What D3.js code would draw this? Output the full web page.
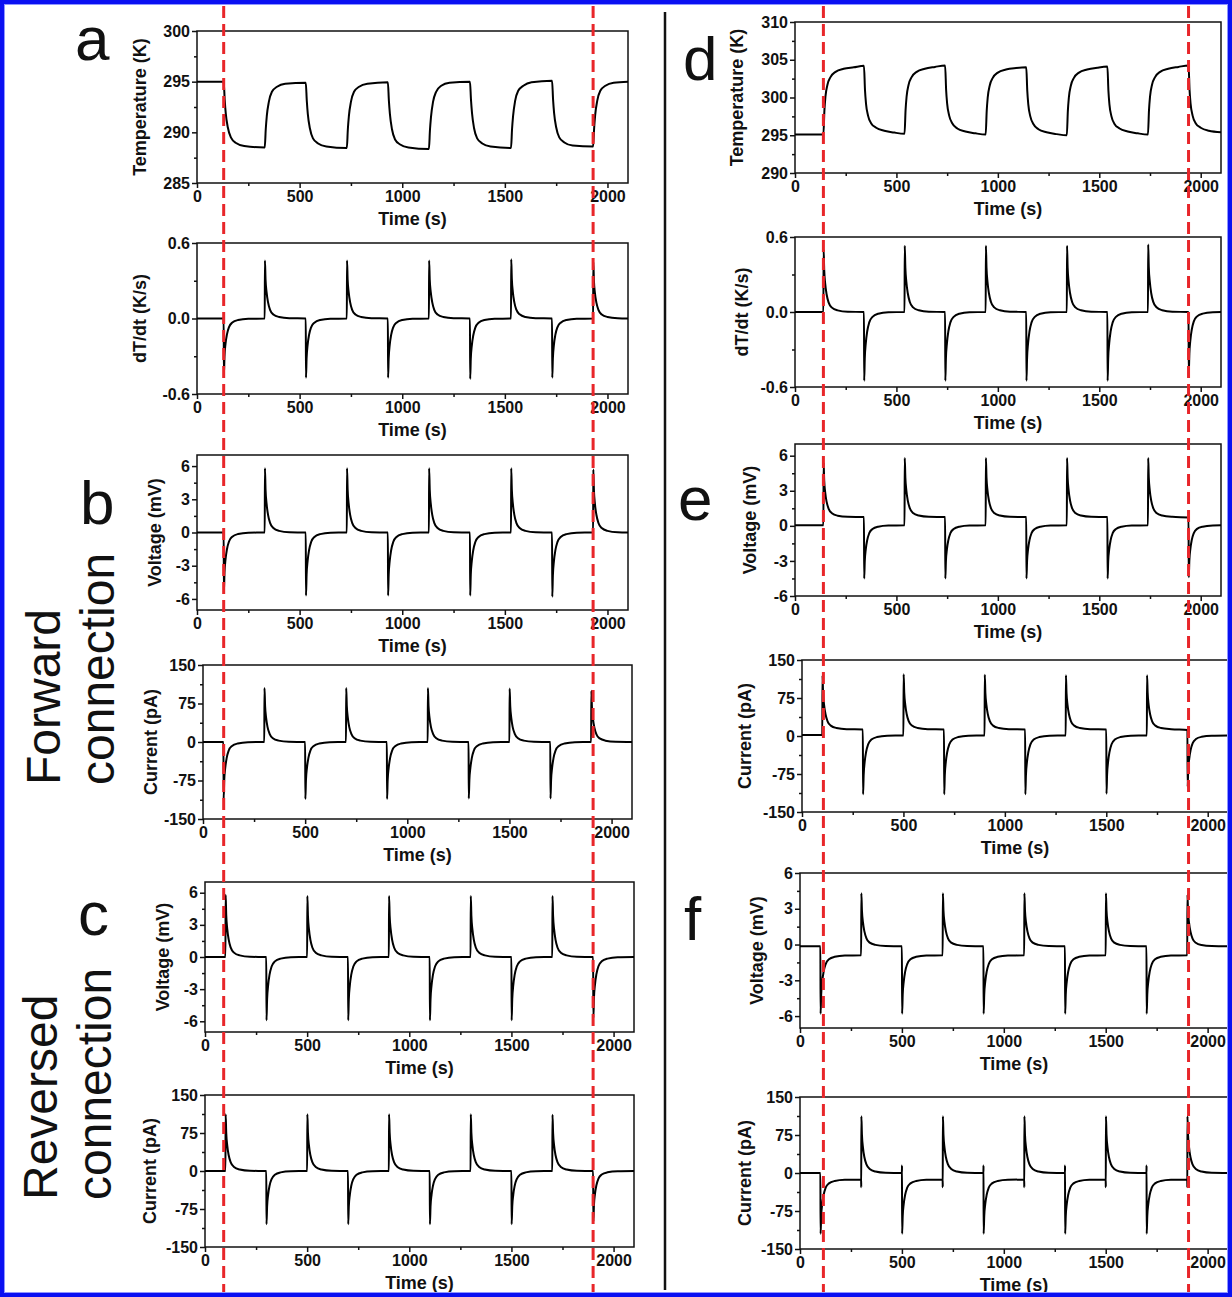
<!DOCTYPE html>
<html lang="en">
<head>
  <meta charset="UTF-8" />
  <title>Temperature, dT/dt, voltage and current traces</title>
  <script src="https://d3js.org/d3.v7.min.js"></script>
  <style>
    body { margin: 0; background: #fff; }
    svg { display: block; }
    .tick text { font: bold 16px 'Liberation Sans', Arial, sans-serif; fill: #111; }
    .axis path, .axis line { stroke: #111; stroke-width: 1.5px; }
    text.ytitle, text.xtitle { font: bold 18px 'Liberation Sans', Arial, sans-serif; fill: #111; }
    text.letter { font: 62px 'Liberation Sans', Arial, sans-serif; fill: #111; }
    text.side { font: 48px 'Liberation Sans', Arial, sans-serif; fill: #111; }
    path.trace { fill: none; stroke: #000; stroke-width: 2px; }
    rect.frame { fill: none; stroke: #111; stroke-width: 1.5px; }
  </style>
</head>
<body>
  <svg id="fig" width="1232" height="1297"></svg>

  <script>
    // shared x axis
    const xDomain = [0, 2100];
    const xTicks = [0, 500, 1000, 1500, 2000];
    const xMinor = [250, 750, 1250, 1750];

    // red dashed marker times (in the top panel time frame of each column)
    const markersLeft = [130, 1930];
    const markersRight = [140, 1940];

    // (a) temperature, K
    const tempA = [
      [0,295],[130,295],[135,293.2],[140,291.9],[150,290.5],[165,289.5],[190,288.95],[230,288.65],[330,288.5],
      [335,290.3],[340,291.6],[350,293.0],[365,294.0],[390,294.5],[430,294.8],[530,294.9],
      [535,293.1],[540,291.8],[550,290.4],[565,289.4],[590,288.9],[630,288.6],[730,288.45],
      [735,290.3],[740,291.6],[750,293.0],[765,294.0],[790,294.5],[830,294.8],[930,294.95],
      [935,293.1],[940,291.8],[950,290.3],[965,289.3],[990,288.8],[1030,288.5],[1130,288.35],
      [1135,290.2],[1140,291.5],[1150,293.0],[1165,294.0],[1190,294.6],[1230,294.9],[1330,295.0],
      [1335,293.2],[1340,291.9],[1350,290.4],[1365,289.4],[1390,288.9],[1430,288.6],[1530,288.45],
      [1535,290.3],[1540,291.6],[1550,293.1],[1565,294.1],[1590,294.6],[1630,294.95],[1730,295.1],
      [1735,293.2],[1740,291.9],[1750,290.5],[1765,289.5],[1790,289.0],[1830,288.7],[1930,288.6],
      [1935,290.4],[1940,291.7],[1950,293.1],[1965,294.1],[1990,294.6],[2030,294.9],[2100,295.0]
    ];

    // (a) dT/dt, K/s
    const dTdtA = [
      [0,0],[130,0],[131,-0.45],[134,-0.30],[139,-0.20],[146,-0.126],[156,-0.068],[172,-0.032],[200,-0.012],[250,-0.002],
      [330,0],[331,0.46],[334,0.31],[339,0.21],[346,0.13],[356,0.069],[372,0.032],[400,0.012],[450,0.002],
      [530,0],[531,-0.47],[534,-0.315],[539,-0.21],[546,-0.13],[556,-0.07],[572,-0.033],[600,-0.012],[650,-0.002],
      [730,0],[731,0.46],[734,0.31],[739,0.21],[746,0.13],[756,0.069],[772,0.032],[800,0.012],[850,0.002],
      [930,0],[931,-0.47],[934,-0.315],[939,-0.21],[946,-0.13],[956,-0.07],[972,-0.033],[1000,-0.012],[1050,-0.002],
      [1130,0],[1131,0.46],[1134,0.31],[1139,0.21],[1146,0.13],[1156,0.069],[1172,0.032],[1200,0.012],[1250,0.002],
      [1330,0],[1331,-0.48],[1334,-0.32],[1339,-0.215],[1346,-0.135],[1356,-0.072],[1372,-0.034],[1400,-0.012],[1450,-0.002],
      [1530,0],[1531,0.47],[1534,0.315],[1539,0.21],[1546,0.13],[1556,0.07],[1572,0.033],[1600,0.012],[1650,0.002],
      [1730,0],[1731,-0.47],[1734,-0.315],[1739,-0.21],[1746,-0.13],[1756,-0.07],[1772,-0.033],[1800,-0.012],[1850,-0.002],
      [1930,0],[1931,0.45],[1934,0.30],[1939,0.20],[1946,0.126],[1956,0.068],[1972,0.032],[2000,0.012],[2050,0.002],[2100,0]
    ];

    // (b) forward connection voltage, mV
    const voltB = [
      [0,0],[130,0],[131,-5.4],[134,-3.62],[139,-2.43],[146,-1.51],[156,-0.81],[172,-0.38],[200,-0.14],[250,-0.02],
      [330,0],[331,5.8],[334,3.89],[339,2.61],[346,1.62],[356,0.87],[372,0.41],[400,0.15],[450,0.02],
      [530,0],[531,-5.7],[534,-3.82],[539,-2.57],[546,-1.6],[556,-0.86],[572,-0.4],[600,-0.15],[650,-0.02],
      [730,0],[731,5.8],[734,3.89],[739,2.61],[746,1.62],[756,0.87],[772,0.41],[800,0.15],[850,0.02],
      [930,0],[931,-5.7],[934,-3.82],[939,-2.57],[946,-1.6],[956,-0.86],[972,-0.4],[1000,-0.15],[1050,-0.02],
      [1130,0],[1131,5.8],[1134,3.89],[1139,2.61],[1146,1.62],[1156,0.87],[1172,0.41],[1200,0.15],[1250,0.02],
      [1330,0],[1331,-5.7],[1334,-3.82],[1339,-2.57],[1346,-1.6],[1356,-0.86],[1372,-0.4],[1400,-0.15],[1450,-0.02],
      [1530,0],[1531,5.8],[1534,3.89],[1539,2.61],[1546,1.62],[1556,0.87],[1572,0.41],[1600,0.15],[1650,0.02],
      [1730,0],[1731,-5.8],[1734,-3.89],[1739,-2.61],[1746,-1.62],[1756,-0.87],[1772,-0.41],[1800,-0.15],[1850,-0.02],
      [1930,0],[1931,5.7],[1934,3.82],[1939,2.57],[1946,1.6],[1956,0.86],[1972,0.4],[2000,0.15],[2050,0.02],[2100,0]
    ];

    // (b) forward connection current, pA
    const currB = [
      [0,0],[100,0],[101,-110],[104,-74],[109,-50],[116,-31],[126,-16.5],[142,-7.7],[170,-2.9],[220,-0.4],
      [300,0],[301,105],[304,70],[309,47],[316,29],[326,16],[342,7.4],[370,2.7],[420,0.4],
      [500,0],[501,-111],[504,-74],[509,-50],[516,-31],[526,-16.5],[542,-7.7],[570,-2.9],[620,-0.4],
      [700,0],[701,105],[704,70],[709,47],[716,29],[726,16],[742,7.4],[770,2.7],[820,0.4],
      [900,0],[901,-111],[904,-74],[909,-50],[916,-31],[926,-16.5],[942,-7.7],[970,-2.9],[1020,-0.4],
      [1100,0],[1101,105],[1104,70],[1109,47],[1116,29],[1126,16],[1142,7.4],[1170,2.7],[1220,0.4],
      [1300,0],[1301,-110],[1304,-74],[1309,-50],[1316,-31],[1326,-16.5],[1342,-7.7],[1370,-2.9],[1420,-0.4],
      [1500,0],[1501,104],[1504,70],[1509,47],[1516,29],[1526,16],[1542,7.4],[1570,2.7],[1620,0.4],
      [1700,0],[1701,-110],[1704,-74],[1709,-50],[1716,-31],[1726,-16.5],[1742,-7.7],[1770,-2.9],[1820,-0.4],
      [1900,0],[1901,100],[1904,67],[1909,45],[1916,28],[1926,15],[1942,7],[1970,2.6],[2020,0.4],[2100,0]
    ];

    // (c) reversed connection voltage, mV
    const voltC = [
      [0,0],[100,0],[101,5.8],[104,3.89],[109,2.61],[116,1.62],[126,0.87],[142,0.41],[170,0.15],[220,0.02],
      [300,0],[301,-5.9],[304,-3.95],[309,-2.66],[316,-1.65],[326,-0.89],[342,-0.41],[370,-0.15],[420,-0.02],
      [500,0],[501,5.7],[504,3.82],[509,2.57],[516,1.6],[526,0.86],[542,0.4],[570,0.15],[620,0.02],
      [700,0],[701,-5.9],[704,-3.95],[709,-2.66],[716,-1.65],[726,-0.89],[742,-0.41],[770,-0.15],[820,-0.02],
      [900,0],[901,5.7],[904,3.82],[909,2.57],[916,1.6],[926,0.86],[942,0.4],[970,0.15],[1020,0.02],
      [1100,0],[1101,-5.9],[1104,-3.95],[1109,-2.66],[1116,-1.65],[1126,-0.89],[1142,-0.41],[1170,-0.15],[1220,-0.02],
      [1300,0],[1301,5.7],[1304,3.82],[1309,2.57],[1316,1.6],[1326,0.86],[1342,0.4],[1370,0.15],[1420,0.02],
      [1500,0],[1501,-5.9],[1504,-3.95],[1509,-2.66],[1516,-1.65],[1526,-0.89],[1542,-0.41],[1570,-0.15],[1620,-0.02],
      [1700,0],[1701,5.7],[1704,3.82],[1709,2.57],[1716,1.6],[1726,0.86],[1742,0.4],[1770,0.15],[1820,0.02],
      [1900,0],[1901,-5.7],[1904,-3.82],[1909,-2.57],[1916,-1.6],[1926,-0.86],[1942,-0.4],[1970,-0.15],[2020,-0.02],[2100,0]
    ];

    // (c) reversed connection current, pA
    const currC = [
      [0,0],[100,0],[101,112],[104,75],[109,50],[116,31],[126,17],[142,7.8],[170,2.9],[220,0.4],
      [300,0],[301,-105],[304,-70],[309,-47],[316,-29],[326,-16],[342,-7.4],[370,-2.7],[420,-0.4],
      [500,0],[501,112],[504,75],[509,50],[516,31],[526,17],[542,7.8],[570,2.9],[620,0.4],
      [700,0],[701,-105],[704,-70],[709,-47],[716,-29],[726,-16],[742,-7.4],[770,-2.7],[820,-0.4],
      [900,0],[901,112],[904,75],[909,50],[916,31],[926,17],[942,7.8],[970,2.9],[1020,0.4],
      [1100,0],[1101,-105],[1104,-70],[1109,-47],[1116,-29],[1126,-16],[1142,-7.4],[1170,-2.7],[1220,-0.4],
      [1300,0],[1301,112],[1304,75],[1309,50],[1316,31],[1326,17],[1342,7.8],[1370,2.9],[1420,0.4],
      [1500,0],[1501,-105],[1504,-70],[1509,-47],[1516,-29],[1526,-16],[1542,-7.4],[1570,-2.7],[1620,-0.4],
      [1700,0],[1701,111],[1704,75],[1709,50],[1716,31],[1726,17],[1742,7.8],[1770,2.9],[1820,0.4],
      [1900,0],[1901,-100],[1904,-67],[1909,-45],[1916,-28],[1926,-15],[1942,-7],[1970,-2.6],[2020,-0.4],[2100,0]
    ];

    // (d) temperature, K
    const tempD = [
      [0,295.1],[140,295.1],[145,298.3],[150,300.1],[160,301.7],[175,302.7],[200,303.4],[240,303.8],[290,304.0],[340,304.2],
      [345,301.0],[350,299.2],[360,297.6],[375,296.6],[400,296.0],[440,295.6],[490,295.35],[540,295.2],
      [545,298.3],[550,300.1],[560,301.7],[575,302.7],[600,303.4],[640,303.8],[690,304.05],[740,304.25],
      [745,301.0],[750,299.2],[760,297.6],[775,296.6],[800,295.9],[840,295.5],[890,295.25],[940,295.1],
      [945,298.2],[950,300.0],[960,301.6],[975,302.6],[1000,303.3],[1040,303.7],[1090,303.9],[1140,304.0],
      [1145,300.9],[1150,299.1],[1160,297.5],[1175,296.5],[1200,295.8],[1240,295.4],[1290,295.15],[1340,295.0],
      [1345,298.2],[1350,300.0],[1360,301.6],[1375,302.6],[1400,303.3],[1440,303.7],[1490,303.95],[1540,304.1],
      [1545,300.9],[1550,299.1],[1560,297.5],[1575,296.5],[1600,295.9],[1640,295.5],[1690,295.25],[1740,295.1],
      [1745,298.3],[1750,300.1],[1760,301.7],[1775,302.7],[1800,303.4],[1840,303.8],[1890,304.05],[1940,304.25],
      [1945,301.0],[1950,299.2],[1960,297.6],[1975,296.6],[2000,296.0],[2040,295.6],[2100,295.4]
    ];

    // (d) dT/dt, K/s
    const dTdtD = [
      [0,0],[140,0],[141,0.5],[144,0.335],[149,0.225],[156,0.14],[166,0.075],[182,0.035],[210,0.013],[260,0.002],
      [340,0],[341,-0.55],[344,-0.37],[349,-0.25],[356,-0.154],[366,-0.083],[382,-0.039],[410,-0.014],[460,-0.002],
      [540,0],[541,0.53],[544,0.355],[549,0.24],[556,0.15],[566,0.08],[582,0.037],[610,0.014],[660,0.002],
      [740,0],[741,-0.55],[744,-0.37],[749,-0.25],[756,-0.154],[766,-0.083],[782,-0.039],[810,-0.014],[860,-0.002],
      [940,0],[941,0.53],[944,0.355],[949,0.24],[956,0.15],[966,0.08],[982,0.037],[1010,0.014],[1060,0.002],
      [1140,0],[1141,-0.55],[1144,-0.37],[1149,-0.25],[1156,-0.154],[1166,-0.083],[1182,-0.039],[1210,-0.014],[1260,-0.002],
      [1340,0],[1341,0.53],[1344,0.355],[1349,0.24],[1356,0.15],[1366,0.08],[1382,0.037],[1410,0.014],[1460,0.002],
      [1540,0],[1541,-0.55],[1544,-0.37],[1549,-0.25],[1556,-0.154],[1566,-0.083],[1582,-0.039],[1610,-0.014],[1660,-0.002],
      [1740,0],[1741,0.54],[1744,0.36],[1749,0.243],[1756,0.15],[1766,0.081],[1782,0.038],[1810,0.014],[1860,0.002],
      [1940,0],[1941,-0.5],[1944,-0.335],[1949,-0.225],[1956,-0.14],[1966,-0.075],[1982,-0.035],[2010,-0.013],[2060,-0.002],[2100,0]
    ];

    // (e) forward connection voltage, mV
    const voltE = [
      [0,0.05],[140,0.05],[141,5.4],[144,3.87],[149,2.84],[156,2.05],[166,1.45],[182,1.08],[210,0.87],[260,0.77],
      [340,0.75],[341,-4.5],[344,-3.0],[349,-2.0],[356,-1.22],[366,-0.63],[382,-0.27],[410,-0.07],[460,0.03],
      [540,0.05],[541,5.8],[544,4.13],[549,3.02],[556,2.16],[566,1.51],[582,1.10],[610,0.88],[660,0.77],
      [740,0.75],[741,-4.5],[744,-3.0],[749,-2.0],[756,-1.22],[766,-0.63],[782,-0.27],[810,-0.07],[860,0.03],
      [940,0.05],[941,5.8],[944,4.13],[949,3.02],[956,2.16],[966,1.51],[982,1.10],[1010,0.88],[1060,0.77],
      [1140,0.75],[1141,-4.5],[1144,-3.0],[1149,-2.0],[1156,-1.22],[1166,-0.63],[1182,-0.27],[1210,-0.07],[1260,0.03],
      [1340,0.05],[1341,5.8],[1344,4.13],[1349,3.02],[1356,2.16],[1366,1.51],[1382,1.10],[1410,0.88],[1460,0.77],
      [1540,0.75],[1541,-4.5],[1544,-3.0],[1549,-2.0],[1556,-1.22],[1566,-0.63],[1582,-0.27],[1610,-0.07],[1660,0.03],
      [1740,0.05],[1741,5.8],[1744,4.13],[1749,3.02],[1756,2.16],[1766,1.51],[1782,1.10],[1810,0.88],[1860,0.77],
      [1940,0.72],[1941,-4.4],[1944,-2.96],[1949,-1.97],[1956,-1.2],[1966,-0.62],[1982,-0.26],[2010,-0.07],[2060,0.03],[2100,0.05]
    ];

    // (e) forward connection current, pA
    const currE = [
      [0,2],[100,2],[101,120],[104,84.7],[109,61],[116,43],[126,29],[142,20.5],[170,15.8],[220,13.4],
      [300,13],[301,-115],[304,-76.7],[309,-51.2],[316,-31.5],[326,-16.4],[342,-7.1],[370,-2.0],[420,0.5],
      [500,1],[501,122],[504,86],[509,62],[516,43.5],[526,29.4],[542,20.6],[570,15.8],[620,13.4],
      [700,13],[701,-115],[704,-76.7],[709,-51.2],[716,-31.5],[726,-16.4],[742,-7.1],[770,-2.0],[820,0.5],
      [900,1],[901,121],[904,85],[909,61.5],[916,43.2],[926,29.2],[942,20.5],[970,15.8],[1020,13.4],
      [1100,13],[1101,-115],[1104,-76.7],[1109,-51.2],[1116,-31.5],[1126,-16.4],[1142,-7.1],[1170,-2.0],[1220,0.5],
      [1300,1],[1301,120],[1304,84.7],[1309,61],[1316,43],[1326,29],[1342,20.5],[1370,15.8],[1420,13.4],
      [1500,13],[1501,-114],[1504,-76],[1509,-50.8],[1516,-31.2],[1526,-16.2],[1542,-7],[1570,-2.0],[1620,0.5],
      [1700,1],[1701,120],[1704,84.7],[1709,61],[1716,43],[1726,29],[1742,20.5],[1770,15.8],[1820,13.4],
      [1900,12],[1901,-100],[1904,-66.7],[1909,-44.5],[1916,-27.3],[1926,-14.2],[1942,-6.1],[1970,-1.6],[2020,0.6],[2100,1]
    ];

    // (f) reversed connection voltage, mV
    const voltF = [
      [0,-0.15],[100,-0.15],[101,-5.8],[104,-4.18],[109,-3.11],[116,-2.27],[126,-1.64],[142,-1.24],[170,-1.03],[220,-0.92],
      [300,-0.9],[301,4.3],[304,2.83],[309,1.85],[316,1.1],[326,0.52],[342,0.16],[370,-0.03],[420,-0.13],
      [500,-0.15],[501,-5.8],[504,-4.18],[509,-3.11],[516,-2.27],[526,-1.64],[542,-1.24],[570,-1.03],[620,-0.92],
      [700,-0.9],[701,4.3],[704,2.83],[709,1.85],[716,1.1],[726,0.52],[742,0.16],[770,-0.03],[820,-0.13],
      [900,-0.15],[901,-5.8],[904,-4.18],[909,-3.11],[916,-2.27],[926,-1.64],[942,-1.24],[970,-1.03],[1020,-0.92],
      [1100,-0.9],[1101,4.3],[1104,2.83],[1109,1.85],[1116,1.1],[1126,0.52],[1142,0.16],[1170,-0.03],[1220,-0.13],
      [1300,-0.15],[1301,-5.8],[1304,-4.18],[1309,-3.11],[1316,-2.27],[1326,-1.64],[1342,-1.24],[1370,-1.03],[1420,-0.92],
      [1500,-0.9],[1501,4.3],[1504,2.83],[1509,1.85],[1516,1.1],[1526,0.52],[1542,0.16],[1570,-0.03],[1620,-0.13],
      [1700,-0.15],[1701,-5.8],[1704,-4.18],[1709,-3.11],[1716,-2.27],[1726,-1.64],[1742,-1.24],[1770,-1.03],[1820,-0.92],
      [1900,-0.9],[1901,4.2],[1904,2.76],[1909,1.81],[1916,1.07],[1926,0.50],[1942,0.15],[1970,-0.04],[2020,-0.13],[2100,-0.15]
    ];

    // (f) reversed connection current, pA
    const currF = [
      [0,0],[100,0],[101,-120],[104,-84.7],[109,-61.2],[116,-43],[126,-29],[142,-20.5],[170,-15.8],[220,-13.4],
      [300,-13],[300.4,-28],[301,112],[304,75],[309,50],[316,31],[326,17],[342,7.8],[370,2.9],[420,0.4],
      [500,0],[500.4,15],[501,-120],[504,-84.7],[509,-61.2],[516,-43],[526,-29],[542,-20.5],[570,-15.8],[620,-13.4],
      [700,-13],[700.4,-28],[701,112],[704,75],[709,50],[716,31],[726,17],[742,7.8],[770,2.9],[820,0.4],
      [900,0],[900.4,15],[901,-120],[904,-84.7],[909,-61.2],[916,-43],[926,-29],[942,-20.5],[970,-15.8],[1020,-13.4],
      [1100,-13],[1100.4,-28],[1101,112],[1104,75],[1109,50],[1116,31],[1126,17],[1142,7.8],[1170,2.9],[1220,0.4],
      [1300,0],[1300.4,15],[1301,-120],[1304,-84.7],[1309,-61.2],[1316,-43],[1326,-29],[1342,-20.5],[1370,-15.8],[1420,-13.4],
      [1500,-13],[1500.4,-28],[1501,112],[1504,75],[1509,50],[1516,31],[1526,17],[1542,7.8],[1570,2.9],[1620,0.4],
      [1700,0],[1700.4,15],[1701,-120],[1704,-84.7],[1709,-61.2],[1716,-43],[1726,-29],[1742,-20.5],[1770,-15.8],[1820,-13.4],
      [1900,-13],[1900.4,-28],[1901,112],[1904,75],[1909,50],[1916,31],[1926,17],[1942,7.8],[1970,2.9],[2020,0.4],[2100,0]
    ];

    // axis setups per quantity
    const tempATicks = [285, 290, 295, 300], tempAMinor = [287.5, 292.5, 297.5];
    const tempDTicks = [290, 295, 300, 305, 310], tempDMinor = [292.5, 297.5, 302.5, 307.5];
    const rateTicks = [-0.6, 0, 0.6], rateMinor = [-0.3, 0.3];
    const voltTicks = [-6, -3, 0, 3, 6], voltMinor = [-4.5, -1.5, 1.5, 4.5];
    const currTicks = [-150, -75, 0, 75, 150], currMinor = [-112.5, -37.5, 37.5, 112.5];

    const plain = d => String(d).replace("\u2212", "-");
    const oneDec = d => d3.format(".1f")(d).replace("\u2212", "-");

    // layout: box = [left, top, right, bottom], tx = centre x of the y title
    const panels = [
      { data: tempA, y: [285, 300], ticks: tempATicks, minor: tempAMinor, fmt: plain, title: "Temperature (K)", box: [197, 31, 628, 183], tx: 140, col: "L", top: true },
      { data: dTdtA, y: [-0.6, 0.6], ticks: rateTicks, minor: rateMinor, fmt: oneDec, title: "dT/dt (K/s)", box: [197, 243, 628, 394], tx: 140 },
      { data: voltB, y: [-7, 7], ticks: voltTicks, minor: voltMinor, fmt: plain, title: "Voltage (mV)", box: [197, 455, 628, 610], tx: 155 },
      { data: currB, y: [-150, 150], ticks: currTicks, minor: currMinor, fmt: plain, title: "Current (pA)", box: [203, 665, 632, 819], tx: 151 },
      { data: voltC, y: [-7, 7], ticks: voltTicks, minor: voltMinor, fmt: plain, title: "Voltage (mV)", box: [205, 882, 634, 1032], tx: 163 },
      { data: currC, y: [-150, 150], ticks: currTicks, minor: currMinor, fmt: plain, title: "Current (pA)", box: [205, 1095, 634, 1247], tx: 150 },
      { data: tempD, y: [290, 310], ticks: tempDTicks, minor: tempDMinor, fmt: plain, title: "Temperature (K)", box: [795, 22, 1221, 173], tx: 737, col: "R", top: true },
      { data: dTdtD, y: [-0.6, 0.6], ticks: rateTicks, minor: rateMinor, fmt: oneDec, title: "dT/dt (K/s)", box: [795, 237, 1221, 387], tx: 742 },
      { data: voltE, y: [-6, 7], ticks: voltTicks, minor: voltMinor, fmt: plain, title: "Voltage (mV)", box: [795, 444, 1221, 596], tx: 750 },
      { data: currE, y: [-150, 150], ticks: currTicks, minor: currMinor, fmt: plain, title: "Current (pA)", box: [802, 660, 1228, 812], tx: 745 },
      { data: voltF, y: [-7, 6], ticks: voltTicks, minor: voltMinor, fmt: plain, title: "Voltage (mV)", box: [800, 873, 1228, 1028], tx: 757 },
      { data: currF, y: [-150, 150], ticks: currTicks, minor: currMinor, fmt: plain, title: "Current (pA)", box: [800, 1097, 1228, 1249], tx: 745 }
    ];

    const svg = d3.select("#fig");
    svg.append("rect").attr("width", 1232).attr("height", 1297).attr("fill", "#fff");

    const topScales = {};

    panels.forEach((p, i) => {
      const [x0, y0, x1, y1] = p.box;
      const x = d3.scaleLinear().domain(xDomain).range([x0, x1]);
      const y = d3.scaleLinear().domain(p.y).range([y1, y0]);
      if (p.top) topScales[p.col] = x;

      const g = svg.append("g");

      g.append("clipPath").attr("id", "clip" + i)
        .append("rect").attr("x", x0).attr("y", y0).attr("width", x1 - x0).attr("height", y1 - y0);

      // minor ticks
      g.append("g").attr("class", "axis")
        .attr("transform", `translate(0,${y1})`)
        .call(d3.axisBottom(x).tickValues(xMinor).tickSize(3).tickFormat(""))
        .call(a => a.select(".domain").remove());
      g.append("g").attr("class", "axis")
        .attr("transform", `translate(${x0},0)`)
        .call(d3.axisLeft(y).tickValues(p.minor).tickSize(3).tickFormat(""))
        .call(a => a.select(".domain").remove());

      // major ticks
      g.append("g").attr("class", "axis")
        .attr("transform", `translate(0,${y1})`)
        .call(d3.axisBottom(x).tickValues(xTicks).tickSize(5).tickPadding(3).tickFormat(d3.format("d")))
        .call(a => a.select(".domain").remove());
      g.append("g").attr("class", "axis")
        .attr("transform", `translate(${x0},0)`)
        .call(d3.axisLeft(y).tickValues(p.ticks).tickSize(5).tickPadding(2).tickFormat(p.fmt))
        .call(a => a.select(".domain").remove());

      g.append("rect").attr("class", "frame")
        .attr("x", x0).attr("y", y0).attr("width", x1 - x0).attr("height", y1 - y0);

      g.append("path").datum(p.data)
        .attr("class", "trace")
        .attr("clip-path", `url(#clip${i})`)
        .attr("d", d3.line().x(d => x(d[0])).y(d => y(d[1])).curve(d3.curveMonotoneX));

      g.append("text").attr("class", "xtitle")
        .attr("x", (x0 + x1) / 2).attr("y", y1 + 42)
        .attr("text-anchor", "middle").text("Time (s)");

      g.append("text").attr("class", "ytitle")
        .attr("transform", `translate(${p.tx},${(y0 + y1) / 2}) rotate(-90)`)
        .attr("dy", "0.35em")
        .attr("text-anchor", "middle").text(p.title);
    });

    // panel letters
    const letters = [
      { t: "a", x: 75, y: 60 }, { t: "b", x: 80, y: 524 }, { t: "c", x: 78, y: 935 },
      { t: "d", x: 683, y: 80 }, { t: "e", x: 678, y: 520 }, { t: "f", x: 684, y: 940 }
    ];
    svg.selectAll("text.letter").data(letters).join("text")
      .attr("class", "letter").attr("x", d => d.x).attr("y", d => d.y).text(d => d.t);

    // side captions
    const sides = [
      { t: "Forward", x: 60, y: 785 }, { t: "connection", x: 114, y: 785 },
      { t: "Reversed", x: 57, y: 1200 }, { t: "connection", x: 111, y: 1200 }
    ];
    svg.selectAll("text.side").data(sides).join("text")
      .attr("class", "side")
      .attr("transform", d => `translate(${d.x},${d.y}) rotate(-90)`)
      .text(d => d.t);

    // column divider
    svg.append("line").attr("x1", 665).attr("x2", 665).attr("y1", 12).attr("y2", 1290)
      .attr("stroke", "#111").attr("stroke-width", 2.5);

    // red dashed guides
    const guides = markersLeft.map(t => topScales.L(t)).concat(markersRight.map(t => topScales.R(t)));
    svg.selectAll("line.guide").data(guides).join("line")
      .attr("class", "guide")
      .attr("x1", d => d).attr("x2", d => d).attr("y1", 6).attr("y2", 1293)
      .attr("stroke", "#e8262a").attr("stroke-width", 3).attr("stroke-dasharray", "12,6");

    // blue outer border
    svg.append("rect").attr("x", 2).attr("y", 2).attr("width", 1228).attr("height", 1293)
      .attr("fill", "none").attr("stroke", "#0a10f2").attr("stroke-width", 4);
    svg.append("rect").attr("x", 4.5).attr("y", 4.5).attr("width", 1223).attr("height", 1288)
      .attr("fill", "none").attr("stroke", "#8f96ff").attr("stroke-width", 1);
  </script>
</body>
</html>
